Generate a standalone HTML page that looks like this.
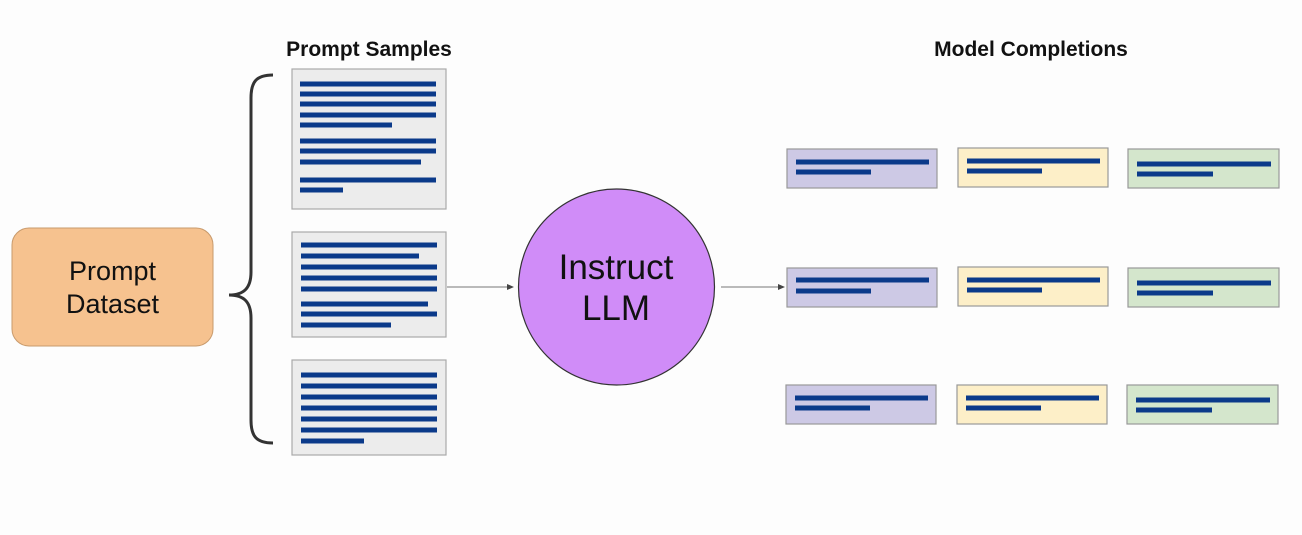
<!DOCTYPE html>
<html><head><meta charset="utf-8"><style>
html,body{margin:0;padding:0;background:#fdfdfd;}
svg{display:block;}
text{font-family:"Liberation Sans",sans-serif;}
</style></head><body>
<svg width="1302" height="535" viewBox="0 0 1302 535" xmlns="http://www.w3.org/2000/svg">
<rect width="1302" height="535" fill="#fdfdfd"/>
<text x="369" y="56" font-size="21" font-weight="bold" text-anchor="middle" fill="#111">Prompt Samples</text>
<text x="1031" y="56" font-size="21" font-weight="bold" text-anchor="middle" fill="#111">Model Completions</text>

<rect x="12" y="228" width="201" height="118" rx="17" fill="#f6c28f" stroke="#c89a6c" stroke-width="1"/>
<text x="112.5" y="280" font-size="27" text-anchor="middle" fill="#111">Prompt</text>
<text x="112.5" y="313" font-size="27" text-anchor="middle" fill="#111">Dataset</text>

<path d="M273,75 C256,75 251,82 251,98 L251,272 C251,288 244,295 229,295 C244,295 251,302 251,318 L251,420 C251,436 256,443 273,443" fill="none" stroke="#333" stroke-width="3"/>

<g stroke="#aaa" stroke-width="1.2" fill="#ececec">
<rect x="292" y="69" width="154" height="140"/>
<rect x="292" y="232" width="154" height="105"/>
<rect x="292" y="360" width="154" height="95"/>
</g>
<g stroke="#0b3a8a" stroke-width="5" stroke-linecap="butt">
<line x1="300" y1="84" x2="436" y2="84"/><line x1="300" y1="94" x2="436" y2="94"/><line x1="300" y1="104" x2="436" y2="104"/><line x1="300" y1="115" x2="436" y2="115"/><line x1="300" y1="125" x2="392" y2="125"/>
<line x1="300" y1="141" x2="436" y2="141"/><line x1="300" y1="151" x2="436" y2="151"/><line x1="300" y1="162" x2="421" y2="162"/>
<line x1="300" y1="180" x2="436" y2="180"/><line x1="300" y1="190" x2="343" y2="190"/>
<line x1="301" y1="245" x2="437" y2="245"/><line x1="301" y1="256" x2="419" y2="256"/><line x1="301" y1="267" x2="437" y2="267"/><line x1="301" y1="278" x2="437" y2="278"/><line x1="301" y1="289" x2="437" y2="289"/><line x1="301" y1="304" x2="428" y2="304"/><line x1="301" y1="314" x2="437" y2="314"/><line x1="301" y1="325" x2="391" y2="325"/>
<line x1="301" y1="375" x2="437" y2="375"/><line x1="301" y1="386" x2="437" y2="386"/><line x1="301" y1="397" x2="437" y2="397"/><line x1="301" y1="408" x2="437" y2="408"/><line x1="301" y1="419" x2="437" y2="419"/><line x1="301" y1="430" x2="437" y2="430"/><line x1="301" y1="441" x2="364" y2="441"/>
</g>

<line x1="447" y1="287" x2="509" y2="287" stroke="#777" stroke-width="1"/>
<polygon points="514,287 507,284 507,290" fill="#444"/>
<line x1="721" y1="287" x2="780" y2="287" stroke="#777" stroke-width="1"/>
<polygon points="785,287 778,284 778,290" fill="#444"/>

<circle cx="616.5" cy="287" r="98" fill="#d08cf8" stroke="#333" stroke-width="1.2"/>
<text x="616" y="279" font-size="35" text-anchor="middle" fill="#111">Instruct</text>
<text x="616" y="320" font-size="35" text-anchor="middle" fill="#111">LLM</text>

<g stroke="#999" stroke-width="1.2">
<rect x="787" y="149" width="150" height="39" fill="#cdc9e5"/>
<rect x="958" y="148" width="150" height="39" fill="#fdefc8"/>
<rect x="1128" y="149" width="151" height="39" fill="#d4e6cc"/>
<rect x="787" y="268" width="150" height="39" fill="#cdc9e5"/>
<rect x="958" y="267" width="150" height="39" fill="#fdefc8"/>
<rect x="1128" y="268" width="151" height="39" fill="#d4e6cc"/>
<rect x="786" y="385" width="150" height="39" fill="#cdc9e5"/>
<rect x="957" y="385" width="150" height="39" fill="#fdefc8"/>
<rect x="1127" y="385" width="151" height="39" fill="#d4e6cc"/>
</g>
<g stroke="#0b3a8a" stroke-width="5">
<line x1="796" y1="162" x2="929" y2="162"/><line x1="796" y1="172" x2="871" y2="172"/>
<line x1="967" y1="161" x2="1100" y2="161"/><line x1="967" y1="171" x2="1042" y2="171"/>
<line x1="1137" y1="164" x2="1271" y2="164"/><line x1="1137" y1="174" x2="1213" y2="174"/>
<line x1="796" y1="280" x2="929" y2="280"/><line x1="796" y1="291" x2="871" y2="291"/>
<line x1="967" y1="280" x2="1100" y2="280"/><line x1="967" y1="290" x2="1042" y2="290"/>
<line x1="1137" y1="283" x2="1271" y2="283"/><line x1="1137" y1="293" x2="1213" y2="293"/>
<line x1="795" y1="398" x2="928" y2="398"/><line x1="795" y1="408" x2="870" y2="408"/>
<line x1="966" y1="398" x2="1099" y2="398"/><line x1="966" y1="408" x2="1041" y2="408"/>
<line x1="1136" y1="400" x2="1270" y2="400"/><line x1="1136" y1="410" x2="1212" y2="410"/>
</g>
</svg>
</body></html>
